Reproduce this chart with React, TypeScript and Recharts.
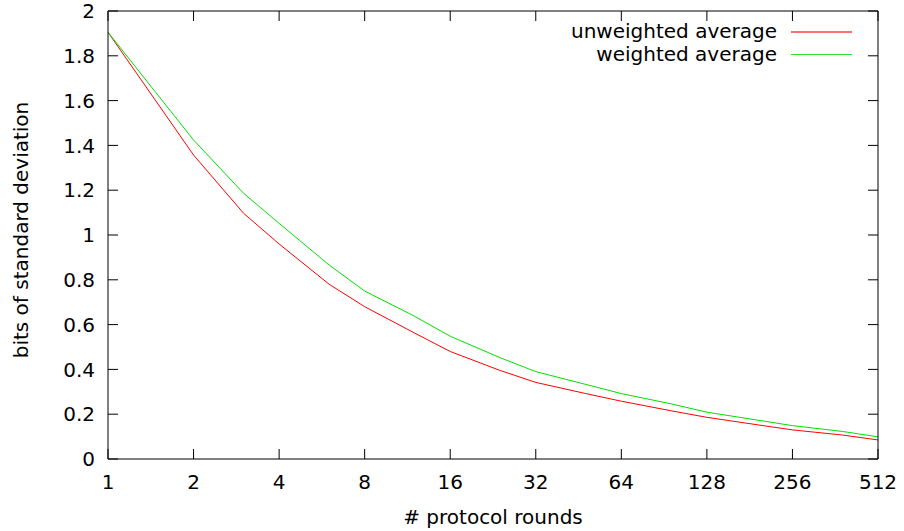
import React from 'react';
import { LineChart, Line, XAxis, YAxis } from 'recharts';

const rounds = [1, 2, 3, 4, 6, 8, 12, 16, 24, 32, 48, 64, 96, 128, 192, 256, 384, 512];
const unweighted = [1.905, 1.357, 1.097, 0.96, 0.78, 0.68, 0.562, 0.48, 0.395, 0.342, 0.292, 0.258, 0.215, 0.186, 0.153, 0.13, 0.107, 0.085];
const weighted = [1.905, 1.424, 1.186, 1.052, 0.866, 0.75, 0.637, 0.548, 0.452, 0.39, 0.333, 0.292, 0.246, 0.209, 0.174, 0.149, 0.123, 0.099];
const xTicks = [1, 2, 4, 8, 16, 32, 64, 128, 256, 512];
const yTicks = [0, 0.2, 0.4, 0.6, 0.8, 1, 1.2, 1.4, 1.6, 1.8, 2];
const seriesNames = ['unweighted average', 'weighted average'];
const RED = '#ff0000';
const GREEN = '#00e000';
const FONT = '"DejaVu Sans", sans-serif';
const TICK_LEN = 10;

const CHART_W = 904;
const CHART_H = 531;
const MARGIN = { top: 11, right: 26, bottom: 8, left: 0 };
const PLOT_TOP = MARGIN.top;
const PLOT_RIGHT = CHART_W - MARGIN.right;

const data = rounds.map((r, i) => ({ r, u: unweighted[i], w: weighted[i] }));

const LegendBox = () => (
  <div style={{ position: 'absolute', left: 552, top: 20, fontFamily: FONT, fontSize: 20, color: '#000', lineHeight: '23px' }}>
    {[
      { name: seriesNames[0], color: '#ff7070', h: 2 },
      { name: seriesNames[1], color: '#30e030', h: 1 },
    ].map((it) => (
      <div key={it.name} style={{ display: 'flex', alignItems: 'center', height: 23 }}>
        <div style={{ width: 225, textAlign: 'right', whiteSpace: 'nowrap' }}>{it.name}</div>
        <div style={{ width: 61, height: it.h, marginLeft: 14, background: it.color }} />
      </div>
    ))}
  </div>
);

const XLabel = (props: any) => {
  const vb = props.viewBox || {};
  return (
    <text x={vb.x + vb.width / 2} y={vb.y + 65} textAnchor="middle" fontFamily={FONT} fontSize={20} fill="#000">
      # protocol rounds
    </text>
  );
};

const YLabel = (props: any) => {
  const vb = props.viewBox || {};
  const cx = (vb.x || 0) + 28;
  const cy = vb.y + vb.height / 2 - 5;
  return (
    <text x={cx} y={cy} transform={`rotate(-90, ${cx}, ${cy})`} textAnchor="middle" fontFamily={FONT} fontSize={20} fill="#000">
      bits of standard deviation
    </text>
  );
};

const X_MARGIN = 16;
const Y_MARGIN = 13;

function BottomTick(props: any) {
  const x = Number(props.x);
  const y = Number(props.y);
  const axisY = y - X_MARGIN;
  return (
    <g>
      {props.index === 0 ? (
        <path d={`M${x},${PLOT_TOP}H${PLOT_RIGHT}`} stroke="#000" strokeWidth={1} fill="none" />
      ) : null}
      <path d={`M${x},${axisY}V${axisY - TICK_LEN}`} stroke="#000" strokeWidth={1} fill="none" />
      <path d={`M${x},${PLOT_TOP}V${PLOT_TOP + TICK_LEN}`} stroke="#000" strokeWidth={1} fill="none" />
      <text x={x} y={y} dy="0.71em" textAnchor="middle" fontFamily={FONT} fontSize={20} fill="#000">
        {String(props.payload.value)}
      </text>
    </g>
  );
}

function LeftTick(props: any) {
  const x = Number(props.x);
  const y = Number(props.y);
  const axisX = x + Y_MARGIN;
  return (
    <g>
      {props.index === 0 ? (
        <path d={`M${PLOT_RIGHT},${PLOT_TOP}V${y}`} stroke="#000" strokeWidth={1} fill="none" />
      ) : null}
      <path d={`M${axisX},${y}H${axisX + TICK_LEN}`} stroke="#000" strokeWidth={1} fill="none" />
      <path d={`M${PLOT_RIGHT},${y}H${PLOT_RIGHT - TICK_LEN}`} stroke="#000" strokeWidth={1} fill="none" />
      <text x={x} y={y} dy="0.355em" textAnchor="end" fontFamily={FONT} fontSize={20} fill="#000">
        {String(props.payload.value)}
      </text>
    </g>
  );
}

export default function App() {
  return (
    <div style={{ position: 'absolute', left: 0, top: 0, width: CHART_W, height: CHART_H, background: '#fff' }}>
      <LineChart width={CHART_W} height={CHART_H} data={data} margin={MARGIN}>
        <XAxis
          dataKey="r"
          type="number"
          scale="log"
          domain={[1, 512]}
          ticks={xTicks}
          allowDataOverflow
          height={64}
          tickSize={0}
          tickMargin={X_MARGIN}
          tickLine={false}
          tick={BottomTick}
          axisLine={{ stroke: '#000', strokeWidth: 1 }}
          label={<XLabel />}
        />
        <YAxis
          type="number"
          domain={[0, 2]}
          ticks={yTicks}
          width={108}
          tickSize={0}
          tickMargin={Y_MARGIN}
          tickLine={false}
          tick={LeftTick}
          axisLine={{ stroke: '#000', strokeWidth: 1 }}
          label={<YLabel />}
        />
        <Line type="linear" dataKey="u" name={seriesNames[0]} stroke={RED} strokeWidth={1} dot={false} isAnimationActive={false} />
        <Line type="linear" dataKey="w" name={seriesNames[1]} stroke={GREEN} strokeWidth={1} dot={false} isAnimationActive={false} />
      </LineChart>
      <LegendBox />
    </div>
  );
}
